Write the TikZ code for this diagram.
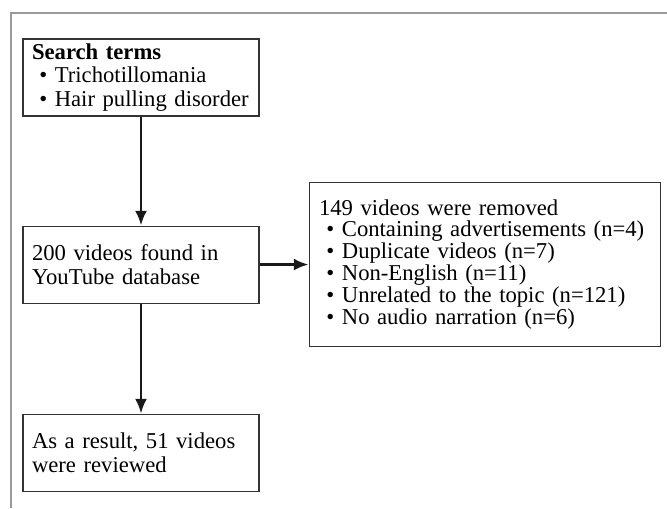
\documentclass[tikz,border=0pt]{standalone}
\usepackage{fontspec}
\setmainfont{Liberation Serif}
\usepackage{tikz}
\usetikzlibrary{arrows.meta,positioning}
\newcommand{\itm}{\hspace*{5.5pt}\textbullet\ }

\begin{document}
\begin{tikzpicture}[
    font=\fontsize{17}{17.5}\selectfont,
    box/.style={draw=black!80, line width=0.8pt, align=left, inner xsep=6.75pt,
        text width=163.5pt, minimum height=57.75pt},
    arr/.style={-{Latex[length=11pt,width=9pt]}, line width=2pt, black!90}
]
\useasboundingbox (0,0) rectangle (500.25pt,-381pt);
% open frame round the flow chart
\draw[gray!80, line width=0.8pt] (8.25pt,-381pt) -- (8.25pt,-9.75pt) -- (500.25pt,-9.75pt);

\node[box] (search) at (105.75pt,-58.1pt) {\textbf{Search terms}\\\itm Trichotillomania\\\itm Hair pulling disorder};
\node[box, below=81.75pt of search] (found) {200 videos found in\\YouTube database};
\node[box, below=82.5pt of found] (result) {As a result, 51 videos\\were reviewed};
\node[box, right=36.75pt of found, text width=248.25pt, inner xsep=7.5pt, minimum height=123pt,
    font=\fontsize{17}{15.4}\selectfont] (removed)
    {149 videos were removed\\\itm Containing advertisements (n=4)\\\itm Duplicate videos (n=7)\\\itm Non-English (n=11)\\\itm Unrelated to the topic (n=121)\\\itm No audio narration (n=6)};

\draw[arr] (search) -- (found);
\draw[arr] (found) -- (result);
\draw[arr] (found) -- (removed);
\end{tikzpicture}
\end{document}
